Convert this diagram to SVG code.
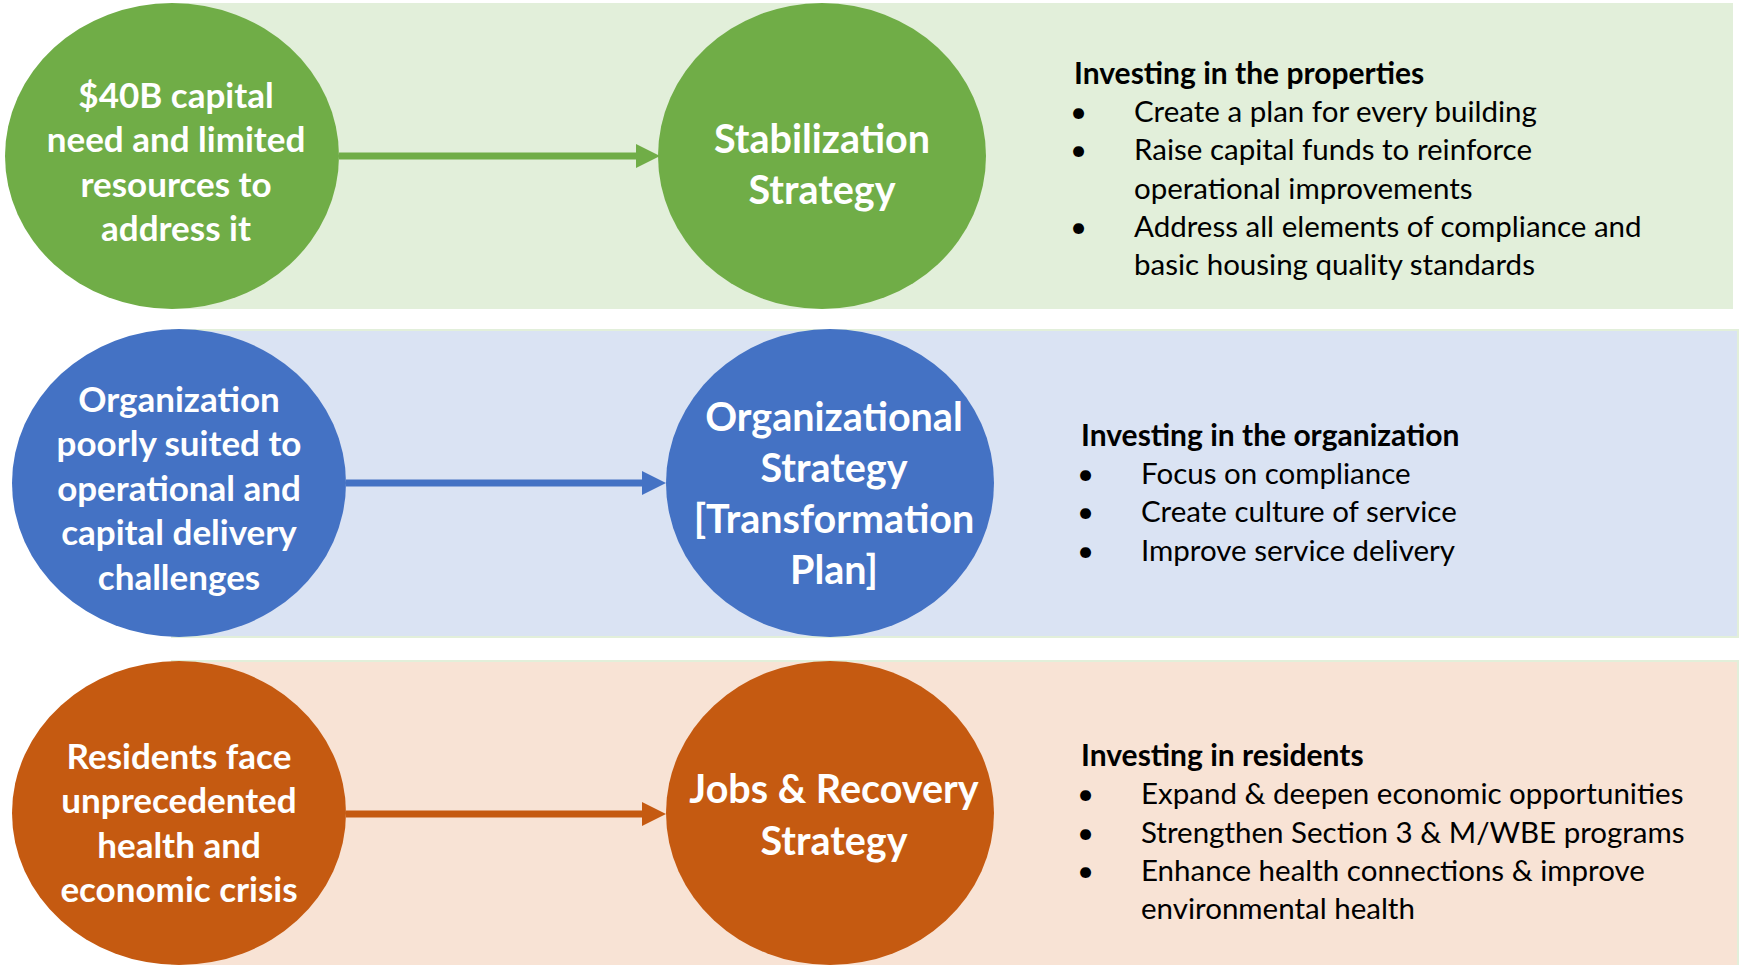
<svg xmlns="http://www.w3.org/2000/svg" width="1745" height="965" viewBox="0 0 1745 965">
<defs>
<style>
.band1{fill:#E2EFDA}
.band2{fill:#DAE3F3;stroke:#E2EFDA;stroke-width:2}
.band3{fill:#F8E3D5;stroke:#E2EFDA;stroke-width:2}
.g{fill:#70AD47}.b{fill:#4472C4}.o{fill:#C55A11}
.ct{font-family:Lato,"Open Sans",sans-serif;font-weight:bold;fill:#fff;text-anchor:middle;font-size:35px}
.ct2{font-family:Lato,"Open Sans",sans-serif;font-weight:bold;fill:#fff;text-anchor:middle;font-size:39.5px}
.h{font-family:Lato,"Open Sans",sans-serif;font-weight:bold;fill:#000;font-size:30px}
.t{font-family:Lato,"Open Sans",sans-serif;fill:#000;font-size:29.5px}
.cg{stroke:#70AD47;stroke-width:7;fill:none}
.cb{stroke:#4472C4;stroke-width:7;fill:none}
.co{stroke:#C55A11;stroke-width:7;fill:none}
</style>
</defs>
<rect class="band1" x="172" y="3" width="1561" height="306"/>
<rect class="band2" x="172" y="330" width="1566" height="307"/>
<rect class="band3" x="172" y="661" width="1566" height="310"/>
<g id="connectors">
<line class="cg" x1="339" y1="156" x2="640" y2="156"/>
<polygon class="g" points="636,144 660,156 636,168"/>
<line class="cb" x1="346" y1="483" x2="646" y2="483"/>
<polygon class="b" points="642,471 666,483 642,495"/>
<line class="co" x1="346" y1="814" x2="646" y2="814"/>
<polygon class="o" points="642,802 666,814 642,826"/>
</g>
<g id="n1">
<ellipse class="g" cx="172" cy="156" rx="167" ry="153"/>
<text class="ct" x="176" y="108">$40B capital</text>
<text class="ct" x="176" y="152">need and limited</text>
<text class="ct" x="176" y="197">resources to</text>
<text class="ct" x="176" y="241">address it</text>
</g>
<g id="n2">
<ellipse class="g" cx="822" cy="156" rx="164" ry="153"/>
<text class="ct2" x="822" y="153">Stabilization</text>
<text class="ct2" x="822" y="204">Strategy</text>
</g>
<g id="t1">
<text class="h" x="1074" y="84">Investing in the properties</text>
<text class="t" x="1070" y="122">•</text><text class="t" x="1134" y="122">Create a plan for every building</text>
<text class="t" x="1070" y="160">•</text><text class="t" x="1134" y="160">Raise capital funds to reinforce</text>
<text class="t" x="1134" y="199">operational improvements</text>
<text class="t" x="1070" y="237">•</text><text class="t" x="1134" y="237">Address all elements of compliance and</text>
<text class="t" x="1134" y="275">basic housing quality standards</text>
</g>
<g id="n3">
<ellipse class="b" cx="179" cy="483" rx="167" ry="154"/>
<text class="ct" x="179" y="412">Organization</text>
<text class="ct" x="179" y="456">poorly suited to</text>
<text class="ct" x="179" y="501">operational and</text>
<text class="ct" x="179" y="545">capital delivery</text>
<text class="ct" x="179" y="590">challenges</text>
</g>
<g id="n4">
<ellipse class="b" cx="830" cy="483" rx="164" ry="154"/>
<text class="ct2" x="834" y="431">Organizational</text>
<text class="ct2" x="834" y="482">Strategy</text>
<text class="ct2" x="834" y="533">[Transformation</text>
<text class="ct2" x="834" y="584">Plan]</text>
</g>
<g id="t2">
<text class="h" x="1081" y="446">Investing in the organization</text>
<text class="t" x="1077" y="484">•</text><text class="t" x="1141" y="484">Focus on compliance</text>
<text class="t" x="1077" y="522">•</text><text class="t" x="1141" y="522">Create culture of service</text>
<text class="t" x="1077" y="561">•</text><text class="t" x="1141" y="561">Improve service delivery</text>
</g>
<g id="n5">
<ellipse class="o" cx="179" cy="813" rx="167" ry="152"/>
<text class="ct" x="179" y="769">Residents face</text>
<text class="ct" x="179" y="813">unprecedented</text>
<text class="ct" x="179" y="858">health and</text>
<text class="ct" x="179" y="902">economic crisis</text>
</g>
<g id="n6">
<ellipse class="o" cx="830" cy="813" rx="164" ry="152"/>
<text class="ct2" x="834" y="803">Jobs &amp; Recovery</text>
<text class="ct2" x="834" y="855">Strategy</text>
</g>
<g id="t3">
<text class="h" x="1081" y="766">Investing in residents</text>
<text class="t" x="1077" y="804">•</text><text class="t" x="1141" y="804">Expand &amp; deepen economic opportunities</text>
<text class="t" x="1077" y="843">•</text><text class="t" x="1141" y="843">Strengthen Section 3 &amp; M/WBE programs</text>
<text class="t" x="1077" y="881">•</text><text class="t" x="1141" y="881">Enhance health connections &amp; improve</text>
<text class="t" x="1141" y="919">environmental health</text>
</g>
</svg>
